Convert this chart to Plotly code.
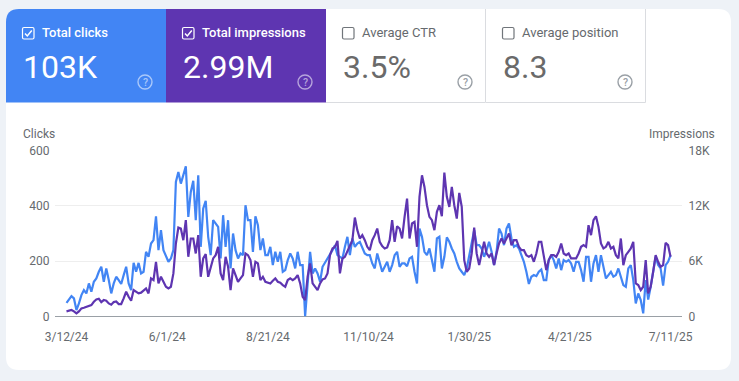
import plotly.graph_objects as go
import pandas as pd

START_DATE = "2024-03-12"
STEP = "2D"

clicks = [50,62,74,66,24,48,78,96,84,120,90,126,138,162,180,126,174,132,84,120,144,132,118,150,180,120,96,194,162,194,
156,162,234,216,264,276,362,240,312,240,216,198,210,240,486,522,480,516,542,360,450,490,348,510,252,390,418,288,222,348,
336,324,210,366,252,348,174,300,240,210,228,222,402,348,348,234,362,330,240,282,222,222,252,186,234,198,234,162,168,204,
228,210,174,234,186,186,2,132,234,156,174,156,126,180,194,210,222,240,258,222,216,210,252,288,222,282,252,264,270,246,
228,222,222,192,174,228,198,162,180,198,162,186,222,234,180,192,192,182,210,216,162,120,318,288,234,222,246,204,162,282,
288,174,216,286,270,246,228,198,174,162,150,174,222,276,312,258,258,246,216,240,270,234,186,234,318,300,258,318,336,282,
252,258,246,222,198,162,118,144,150,146,162,170,132,132,204,222,204,174,210,168,204,198,204,192,162,198,198,168,126,216,
216,126,192,222,162,222,174,138,150,162,144,150,174,144,114,108,174,186,132,48,84,60,12,132,62,108,156,216,186,174,
112,186,198,222]

impressions = [576,648,720,576,360,576,900,972,1080,1150,1260,1620,1870,1940,1580,1800,1730,1440,1300,1580,1650,1370,1370,1980,2700,2160,1730,2880,2700,2520,
2600,2800,3060,2520,4140,3960,5940,3600,4320,3780,3240,3060,3240,4680,7920,9650,9540,8280,10440,6480,8460,8460,6840,8820,4320,6300,6770,4320,5220,6300,
6660,7560,4680,3960,6480,5400,2880,5220,4500,3780,4140,4500,6840,6660,6120,4320,5940,5760,3960,4320,3780,3670,3600,3890,4140,3780,3670,3420,3240,3960,
4140,3960,4140,4500,3600,2160,1800,4320,5760,3600,3240,2880,3600,4030,4140,4680,6660,7380,7560,8200,4680,6300,6480,7020,7560,8280,10730,9360,8460,8820,
8280,7560,7200,8280,8820,9540,8100,7630,7380,7490,8280,10440,8100,9790,9540,8460,10800,12780,8460,10080,10260,7560,12960,15300,14040,12060,10800,10440,9360,11340,
12060,10870,15590,12960,11880,14040,12060,10620,13390,11880,6120,4860,5220,6840,9650,6840,5580,6840,8100,6840,6480,6840,5580,6840,7920,8460,7920,8460,9000,7740,
8280,8280,7560,7200,7200,6660,6480,6660,5940,6840,8100,8100,6660,5040,6120,6660,6660,6480,7020,7920,6840,6660,6840,6300,6300,6300,6840,7560,7740,7560,
9900,8820,10440,10870,9720,7920,7380,7560,8100,7380,7560,6660,6300,8460,5580,6660,7020,7380,8100,3600,3420,2880,3240,6120,2520,3240,4860,6660,5940,5400,
5580,7990,7740,6480]

x_tick_dates = ["2024-03-12","2024-06-01","2024-08-21","2024-11-10","2025-01-30","2025-04-21","2025-07-11"]
x_tick_labels = ["3/12/24","6/1/24","8/21/24","11/10/24","1/30/25","4/21/25","7/11/25"]
clicks_ticks = [0,200,400,600]
impr_ticks = [0,6000,12000,18000]
impr_tick_labels = ["0","6K","12K","18K"]
tile_labels = ["Total clicks","Total impressions","Average CTR","Average position"]
tile_values = ["103K","2.99M","3.5%","8.3"]

W, H = 739, 381
BG = "#eef2f7"; BLUE = "#4285f4"; PURPLE = "#5e35b1"; GRAY = "#666a6e"; BORDER = "#dadce0"
FONT = "Roboto"

def px(x): return x / W
def py(y): return 1 - y / H

shapes, annos = [], []

def path(d, fill=None, line=None, lw=1):
    shapes.append(dict(type="path", xref="paper", yref="paper", path=d,
                       fillcolor=fill or "rgba(0,0,0,0)",
                       line=dict(color=line or "rgba(0,0,0,0)", width=lw if line else 0),
                       layer="below"))

def P(*pts):
    return " ".join(f"{c} {px(x):.5f} {py(y):.5f}" for c, x, y in pts)

def rrect(x0, y0, x1, y1, r, corners=(1, 1, 1, 1), **kw):
    tl, tr, br, bl = [r * c for c in corners]
    s = f"M {px(x0+tl):.5f} {py(y0):.5f} L {px(x1-tr):.5f} {py(y0):.5f} "
    s += f"Q {px(x1):.5f} {py(y0):.5f} {px(x1):.5f} {py(y0+tr):.5f} "
    s += f"L {px(x1):.5f} {py(y1-br):.5f} Q {px(x1):.5f} {py(y1):.5f} {px(x1-br):.5f} {py(y1):.5f} "
    s += f"L {px(x0+bl):.5f} {py(y1):.5f} Q {px(x0):.5f} {py(y1):.5f} {px(x0):.5f} {py(y1-bl):.5f} "
    s += f"L {px(x0):.5f} {py(y0+tl):.5f} Q {px(x0):.5f} {py(y0):.5f} {px(x0+tl):.5f} {py(y0):.5f} Z"
    path(s, **kw)

def text(x, y, s, size, color, anchor="left", weight=400):
    annos.append(dict(x=px(x), y=py(y), xref="paper", yref="paper", text=s, showarrow=False,
                      xanchor=anchor, yanchor="middle", borderpad=0,
                      font=dict(family=FONT, size=size, color=color, weight=weight)))

# card
rrect(6, 9, 731, 370, 13, fill="#ffffff")

# tiles
tile_x = [6, 166, 326, 486]
tile_w = 160
tile_fill = [BLUE, PURPLE, "#ffffff", "#ffffff"]
for i, (lab, val) in enumerate(zip(tile_labels, tile_values)):
    x0 = tile_x[i]
    on = i < 2
    fg = "#ffffff" if on else GRAY
    if i == 0:
        rrect(x0, 9, x0 + tile_w, 102.5, 13, corners=(1, 0, 0, 0), fill=tile_fill[i])
    elif on:
        rrect(x0, 9, x0 + tile_w, 102.5, 0, fill=tile_fill[i])
    else:
        path(P(("M", x0, 102.5), ("L", x0 + tile_w - .5, 102.5), ("L", x0 + tile_w - .5, 9)), line=BORDER)
    # checkbox
    cx = x0 + 16
    rrect(cx + .5, 27.5, cx + 12, 39, 1.5, line=fg if on else "#70757a", lw=1.2)
    if on:
        path(P(("M", cx + 3, 33.5), ("L", cx + 5.3, 35.9), ("L", cx + 9.8, 30.6)), line="#ffffff", lw=1.5)
    text(x0 + 34.5 if on else x0 + 35, 32.5, lab, 13, fg if on else GRAY, weight=500 if on else 400)
    text(x0 + 15.5, 67, val, 32, fg if on else "#6a6a6a")
    # help
    col = "rgba(255,255,255,0.55)" if on else "#9aa0a6"
    hx, hy = x0 + 139, 82
    shapes.append(dict(type="circle", xref="paper", yref="paper", layer="below",
                       x0=px(hx - 7), x1=px(hx + 7), y0=py(hy + 7), y1=py(hy - 7),
                       line=dict(color=col, width=1.4)))
    text(hx, hy, "?", 10.5, col, anchor="center", weight=500)

text(21.5, 133.5, "Clicks", 12, GRAY)
text(716, 133.5, "Impressions", 12, GRAY, anchor="right")

dates = pd.date_range(START_DATE, periods=len(clicks), freq=STEP)

fig = go.Figure()
fig.add_trace(go.Scatter(x=dates, y=impressions, mode="lines", yaxis="y2", name="Impressions",
                         line=dict(color=PURPLE, width=2.2), hoverinfo="skip"))
fig.add_trace(go.Scatter(x=dates, y=clicks, mode="lines", name="Clicks",
                         line=dict(color=BLUE, width=2.2), hoverinfo="skip"))

fig.update_layout(
    width=W, height=H, margin=dict(l=0, r=0, t=0, b=0, autoexpand=False), showlegend=False,
    paper_bgcolor=BG, plot_bgcolor="rgba(0,0,0,0)",
    font=dict(family=FONT, size=12, color=GRAY),
    shapes=shapes, annotations=annos,
    xaxis=dict(domain=[px(55), px(682)], type="date", automargin=False,
               range=[pd.Timestamp(START_DATE) - pd.Timedelta(days=9.25),
                      pd.Timestamp(START_DATE) + pd.Timedelta(days=495.2)],
               tickmode="array", tickvals=x_tick_dates, ticktext=x_tick_labels,
               ticks="outside", ticklen=9, tickcolor="rgba(0,0,0,0)",
               showgrid=False, showline=False, zeroline=False, tickfont=dict(size=12, color=GRAY)),
    yaxis=dict(domain=[1 - 316.7 / H, 1 - 150.3 / H], range=[0, 600], automargin=False,
               tickmode="array", tickvals=clicks_ticks, ticks="outside", ticklen=2,
               tickcolor="rgba(0,0,0,0)", gridcolor="#eeeeee", gridwidth=1,
               zeroline=True, zerolinecolor="#9aa0a6", zerolinewidth=1,
               showline=False, tickfont=dict(size=12, color=GRAY)),
    yaxis2=dict(domain=[1 - 316.7 / H, 1 - 150.3 / H], range=[0, 18000], overlaying="y", side="right",
                anchor="x", automargin=False, tickmode="array", tickvals=impr_ticks, ticktext=impr_tick_labels,
                ticks="outside", ticklen=3, tickcolor="rgba(0,0,0,0)", showgrid=False,
                zeroline=False, showline=False, tickfont=dict(size=12, color=GRAY)),
)

fig.write_html("out.html", config=dict(displayModeBar=False),
               post_script="document.body.style.margin='0';document.documentElement.style.overflow='hidden';")
